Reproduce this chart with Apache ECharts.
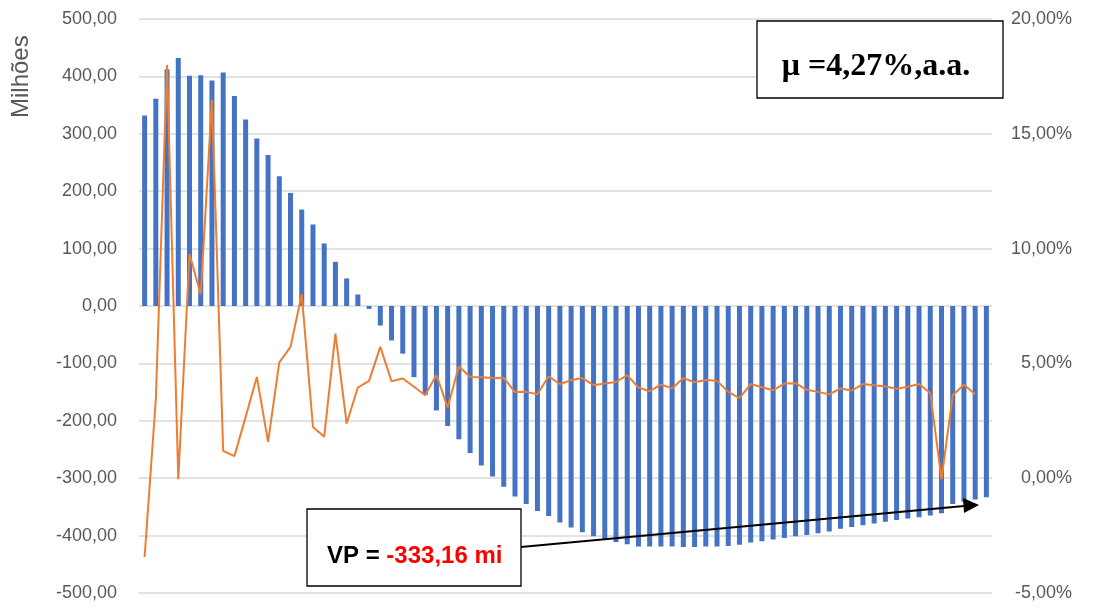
<!DOCTYPE html>
<html>
<head>
<meta charset="utf-8">
<script src="https://cdn.jsdelivr.net/npm/echarts@6/dist/echarts.min.js"></script>
<style>
html,body{margin:0;padding:0;background:#fff;}
#chart{width:1095px;height:609px;}
</style>
</head>
<body>
<div id="chart"></div>
<script>
// Fluxo acumulado (milhões)
var barValues = [332,361,412,432,401,402,393,407,366,325,292,263,226,197,168,142,109,77,48,20,
  -5,-34,-60,-83,-124,-155,-182,-209,-232,-256,-278,-297,-315,-332,-345,-357,-366,-377,-386,-394,
  -401,-406,-411,-415,-419,-419,-419,-419,-420,-420,-419,-419,-418,-416,-412,-410,-407,-404,-401,-399,
  -396,-393,-388,-385,-382,-379,-376,-373,-370,-368,-365,-361,-345,-341,-337,-333];
// Taxa (%)
var lineValues = [-3.43,3.45,17.99,-0.04,9.76,8.0,16.49,1.19,0.96,2.67,4.41,1.58,5.04,5.72,8.01,2.23,1.80,6.30,2.38,3.95,
  4.24,5.72,4.22,4.34,3.98,3.61,4.50,3.08,4.88,4.41,4.40,4.36,4.37,3.75,3.76,3.66,4.44,4.09,4.27,4.36,
  4.05,4.12,4.19,4.49,3.95,3.79,4.08,3.91,4.36,4.18,4.28,4.24,3.76,3.49,4.10,3.96,3.83,4.12,4.14,3.85,
  3.76,3.65,3.91,3.82,4.10,4.05,3.99,3.90,3.98,4.10,3.71,-0.04,3.61,4.07,3.66,null];
var categories = barValues.map(function(v,i){return String(i+1);});
var leftAxisTitle = 'Milhões';
var muText = 'μ =4,27%,a.a.';
var vpLabel = 'VP = ';
var vpValue = '-333,16 mi';

var chart = echarts.init(document.getElementById('chart'));
function fmt(v){ return v.toFixed(2).replace('.', ','); }
chart.setOption({
  animation:false,
  backgroundColor:'#ffffff',
  grid:{left:139,right:103,top:19,bottom:16,containLabel:false},
  xAxis:{type:'category',data:categories,boundaryGap:true,
    axisLine:{show:false},axisTick:{show:false},axisLabel:{show:false},splitLine:{show:false}},
  yAxis:[
    {type:'value',min:-500,max:500,interval:100,
     axisLine:{show:false},axisTick:{show:false},
     axisLabel:{formatter:function(v){return fmt(v);},color:'#595959',fontSize:18,fontFamily:'Liberation Sans, Arial, sans-serif',margin:22},
     splitLine:{show:true,lineStyle:{color:'#d9d9d9',width:1.5}}},
    {type:'value',min:-5,max:20,interval:5,position:'right',
     axisLine:{show:false},axisTick:{show:false},
     axisLabel:{formatter:function(v){return fmt(v)+'%';},color:'#595959',fontSize:18,fontFamily:'Liberation Sans, Arial, sans-serif',margin:80,align:'right'},
     splitLine:{show:false}}
  ],
  series:[
    {type:'bar',data:barValues,yAxisIndex:0,barWidth:5,itemStyle:{color:'#4472c4'}},
    {type:'line',data:lineValues,yAxisIndex:1,symbol:'none',lineStyle:{color:'#ed7d31',width:2},itemStyle:{color:'#ed7d31'},z:3}
  ],
  graphic:[
    {type:'text',x:9,y:118,rotation:Math.PI/2,
     style:{text:leftAxisTitle,fill:'#595959',font:'24px "Liberation Sans", Arial, sans-serif',textAlign:'left',textVerticalAlign:'top'}},
    {type:'rect',shape:{x:757,y:21,width:246,height:77},style:{fill:'#ffffff',stroke:'#000',lineWidth:1.3},z:10},
    {type:'text',x:876,y:67,z:11,style:{text:muText,fill:'#000',font:'bold 32px "Liberation Serif", "DejaVu Serif", serif',textAlign:'center',textVerticalAlign:'middle'}},
    {type:'rect',shape:{x:307,y:509,width:214,height:77},style:{fill:'#ffffff',stroke:'#000',lineWidth:1.3},z:10},
    {type:'text',x:327,y:556,z:11,style:{rich:{a:{fill:'#000',font:'bold 24px "Liberation Sans", Arial, sans-serif'},b:{fill:'#ff0000',font:'bold 24px "Liberation Sans", Arial, sans-serif'}},text:'{a|'+vpLabel+'}{b|'+vpValue+'}',textVerticalAlign:'middle'}},
    {type:'line',shape:{x1:521,y1:547,x2:964,y2:506},style:{stroke:'#000',lineWidth:2},z:10},
    {type:'polygon',shape:{points:[[979,505],[963,498],[964,513]]},style:{fill:'#000'},z:10}
  ]
});
</script>
</body>
</html>
